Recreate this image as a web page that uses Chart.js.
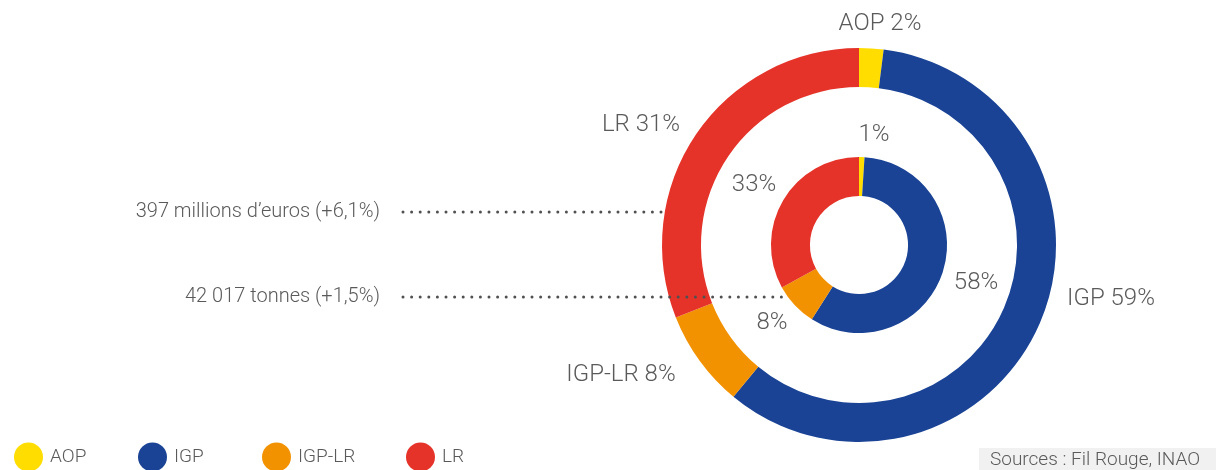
<!DOCTYPE html>
<html>
<head>
<meta charset="utf-8">
<script src="https://cdn.jsdelivr.net/npm/chart.js@4.4.1/dist/chart.umd.min.js"></script>
<style>
    html, body { margin: 0; padding: 0; background: #fff; }
    #wrap { width: 1216px; height: 470px; position: relative; }
</style>
</head>
<body>
<div id="wrap"><canvas id="grafico-signes"></canvas></div>
<script>
const categories = ['AOP', 'IGP', 'IGP-LR', 'LR'];
const valeurEuros = [2, 59, 8, 31];     // anneau extérieur (valeur)
const volumeTonnes = [1, 58, 8, 33];    // anneau intérieur (volume)
const couleurs = ['#FFDD00', '#1A4395', '#F39200', '#E5332A'];

const texteValeur = '397 millions d\u2019euros (+6,1%)';
const texteVolume = '42 017 tonnes (+1,5%)';
const texteSource = 'Sources : Fil Rouge, INAO';

// position des étiquettes par rapport au centre
const decalageExt = [[21, -221], [252, 54], [-238, 130], [-218, -120]];
const decalageInt = [[15, -110], [117, 38], [-87, 78], [-105, -60]];
const legendeX = [14, 138, 262, 406];

const gris = '#5a5a5a';
const police = 'Roboto, "DejaVu Sans", sans-serif';

const etiquettesPlugin = {
    id: 'etiquettes',
    afterDatasetsDraw(chart) {
        const ctx = chart.ctx;
        const ext = chart.getDatasetMeta(0).data;
        const int = chart.getDatasetMeta(2).data;
        const cx = ext[0].x;
        const cy = ext[0].y;

        ctx.save();
        ctx.fillStyle = gris;
        ctx.textBaseline = 'middle';
        ctx.textAlign = 'center';
        ctx.font = '300 24px ' + police;
        ext.forEach((arc, i) => {
            const [dx, dy] = decalageExt[i];
            ctx.fillText(categories[i] + ' ' + valeurEuros[i] + '%', cx + dx, cy + dy);
        });
        int.forEach((arc, i) => {
            const [dx, dy] = decalageInt[i];
            ctx.fillText(volumeTonnes[i] + '%', cx + dx, cy + dy);
        });

        // lignes pointillées
        const lignes = [
            { y: 212, r: ext[0].outerRadius, texte: texteValeur },
            { y: 297, r: int[0].outerRadius, texte: texteVolume }
        ];
        lignes.forEach(l => {
            const dy = l.y - cy;
            const xFin = cx - Math.sqrt(l.r * l.r - dy * dy);
            ctx.fillStyle = '#505050';
            for (let x = 403; x <= xFin; x += 8.6) {
                ctx.beginPath();
                ctx.arc(x, l.y, 1.5, 0, Math.PI * 2);
                ctx.fill();
            }
            ctx.fillStyle = gris;
            ctx.font = '300 20px ' + police;
            ctx.textAlign = 'right';
            ctx.fillText(l.texte, 380, l.y);
        });

        // légende
        ctx.font = '300 19px ' + police;
        ctx.textAlign = 'left';
        categories.forEach((c, i) => {
            const x = legendeX[i];
            ctx.fillStyle = couleurs[i];
            ctx.beginPath();
            ctx.arc(x + 14.5, 457, 14.5, 0, Math.PI * 2);
            ctx.fill();
            ctx.fillStyle = gris;
            ctx.fillText(c, x + 36, 457);
        });

        // source
        ctx.fillStyle = '#f1f1f1';
        ctx.fillRect(979, 448, 237, 22);
        ctx.fillStyle = gris;
        ctx.font = '300 19px ' + police;
        ctx.fillText(texteSource, 990, 460);
        ctx.restore();
    }
};

const ctx = document.getElementById('grafico-signes').getContext('2d');

new Chart(ctx, {
    type: 'doughnut',
    data: {
        labels: categories,
        datasets: [
            {
                label: 'Valeur',
                data: valeurEuros,
                backgroundColor: couleurs,
                borderWidth: 0,
                weight: 39
            },
            {
                label: '',
                data: [1],
                backgroundColor: 'rgba(0,0,0,0)',
                hoverBackgroundColor: 'rgba(0,0,0,0)',
                borderWidth: 0,
                weight: 70
            },
            {
                label: 'Volume',
                data: volumeTonnes,
                backgroundColor: couleurs,
                borderWidth: 0,
                weight: 39
            }
        ]
    },
    options: {
        responsive: true,
        maintainAspectRatio: false,
        animation: false,
        cutout: '24.9%',
        layout: {
            padding: { left: 662, right: 160, top: 48, bottom: 28 }
        },
        plugins: {
            legend: { display: false },
            tooltip: { enabled: false }
        }
    },
    plugins: [etiquettesPlugin]
});
</script>
</body>
</html>
